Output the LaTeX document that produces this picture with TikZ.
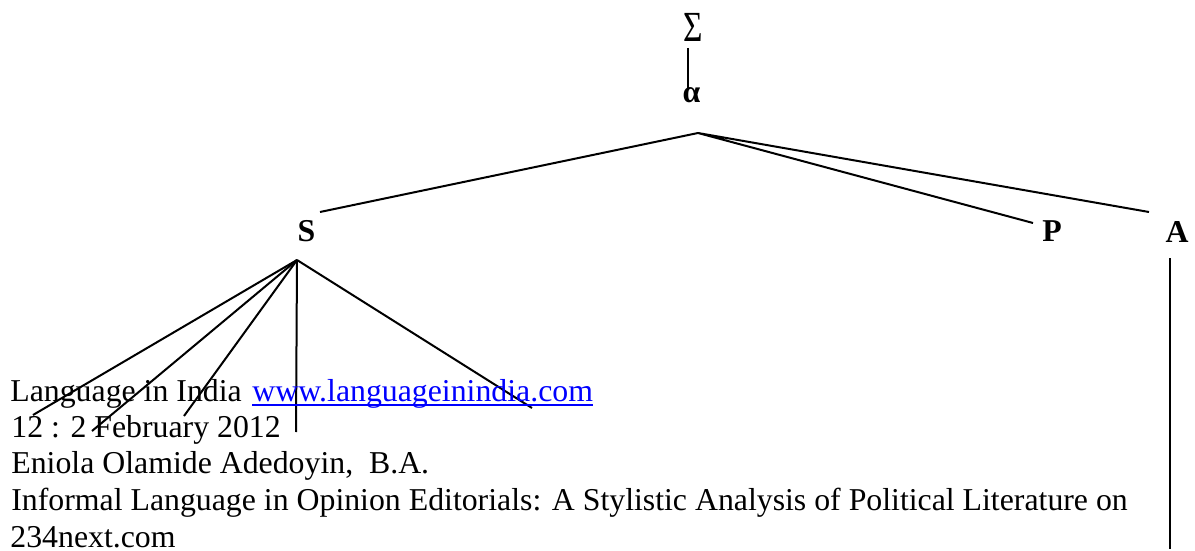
\documentclass[tikz,border=0pt]{standalone}
\usepackage{graphicx}
\usepackage{fontspec}
\setmainfont{Liberation Serif}
\usepackage{tikz}
\usetikzlibrary{positioning}
\definecolor{weblink}{RGB}{0,0,255}

\begin{document}
\begin{tikzpicture}[x=0.5pt,y=-0.5pt,
    every node/.style={inner sep=0pt,font=\fontsize{15.9}{19}\selectfont},
    lbl/.style={font=\fontsize{15.9}{19}\selectfont\bfseries},
    txt/.style={anchor=base west},
    branch/.style={line width=1pt}]
  \useasboundingbox (0,0) rectangle (1195,551);

  % top of the tree
  \node (sum) at (693,27.5) {\scalebox{1.05}[1.35]{Σ}};
  \node[lbl] (alpha) at (691.5,95) {α};
  \coordinate (stemtop) at (688,48);
  \coordinate (stembot) at (688,88);
  \draw[branch] (stemtop) -- (stembot);

  \coordinate (apex) at (698,133);
  \node[lbl] (S) at (306.5,231) {S};
  \node[lbl] (P) at (1052,231) {P};
  \node[lbl] (A) at (1177,232) {A};
  \coordinate (toS) at (320,212);
  \coordinate (toP) at (1033,223);
  \coordinate (toA) at (1149,212);
  \draw[branch]
    (apex) -- (toS)
    (apex) -- (toP)
    (apex) -- (toA);

  % under S
  \coordinate (sroot) at (297,260);
  \coordinate (s1) at (33,415);
  \coordinate (s2) at (92,431);
  \coordinate (s3) at (184,416);
  \coordinate (s4) at (296,432);
  \coordinate (s5) at (532,408);
  \foreach \leaf in {s1,s2,s3,s4,s5}
    \draw[branch] (sroot) -- (\leaf);

  % under A
  \coordinate (atop) at (1170,258);
  \coordinate (abot) at (1170,549);
  \draw[branch] (atop) -- (abot);

  % footer
  \node[txt] (lang) at (10,401) {Language in India};
  \node[txt,text=weblink] (web) at (252,401) {www.languageinindia.com};
  \draw[weblink,line width=0.75pt] ([yshift=-2pt]web.base west) -- ([yshift=-2pt]web.base east);
  \node[txt] (issue) at (11,437) {12 : 2 February 2012};
  \node[txt] (author) at (11,473) {Eniola Olamide Adedoyin,\ \ B.A.};
  \node[txt] (title) at (11,510) {Informal Language in Opinion Editorials: A Stylistic Analysis of Political Literature on};
  \node[txt] (site) at (10,547) {234next.com};
\end{tikzpicture}
\end{document}
